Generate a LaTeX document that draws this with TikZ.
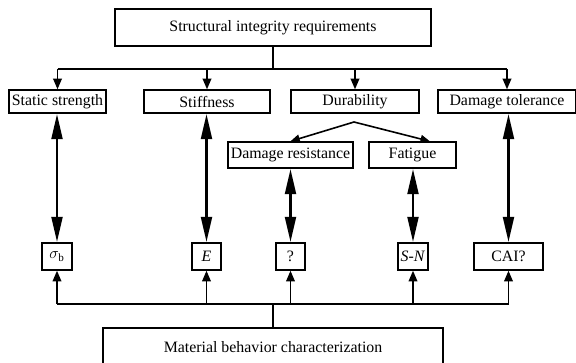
\documentclass[tikz,border=0pt]{standalone}
\usepackage{fontspec}
\setmainfont{Liberation Serif}
\usetikzlibrary{arrows.meta}

\tikzset{
  box/.style={draw, line width=1.1pt, inner sep=0pt, font=\fontsize{11.9}{14}\selectfont},
  bus/.style={line width=1.4pt},
  trunk/.style={line width=0.8pt},
  feed/.style={line width=1.2pt, -{Triangle[length=8pt, width=6.5pt]}},
  fan/.style={line width=1.2pt, -{Triangle[length=7pt, width=6pt]}},
  link/.style={line width=2.2pt, {Triangle[length=19pt, width=8pt]}-{Triangle[length=19pt, width=8pt]}},
}

\begin{document}
\begin{tikzpicture}[x=0.75pt, y=-0.75pt]
% canvas in pixel units, y pointing down
\useasboundingbox (0,0) rectangle (576,362);

% requirements
\node[box, minimum width=237pt, minimum height=27.75pt] (req) at (273,27.5) {Structural integrity requirements};
\node[box, minimum width=72.75pt, minimum height=17.25pt] (static) at (57.5,101.5) {Static strength};
\node[box, minimum width=94.5pt, minimum height=17.25pt] (stiff) at (207,101.5) {Stiffness};
\node[box, minimum width=96pt, minimum height=17.25pt] (dura) at (355,101.5) {Durability};
\node[box, minimum width=103.5pt, minimum height=17.25pt] (dtol) at (507,101.5) {Damage tolerance};
\node[box, minimum width=93.75pt, minimum height=19.5pt] (dres) at (290.5,155) {Damage resistance};
\node[box, minimum width=65.25pt, minimum height=19.5pt] (fati) at (412.5,155) {Fatigue};

% material properties
\node[box, minimum width=22.5pt, minimum height=20.25pt] (sig) at (57,256.5) {$\sigma_{\mathrm{b}}$};
\node[box, minimum width=21.75pt, minimum height=20.25pt] (emod) at (206.5,256.5) {\textit{E}};
\node[box, minimum width=21.75pt, minimum height=20.25pt] (qres) at (290.5,256.5) {?};
\node[box, minimum width=22.5pt, minimum height=20.25pt] (sn) at (413,256.5) {\textit{S}-\textit{N}};
\node[box, minimum width=51.75pt, minimum height=20.25pt] (cai) at (508.5,256.5) {CAI?};
\node[box, minimum width=255pt, minimum height=28.5pt] (mat) at (273,347) {Material behavior characterization};

\coordinate (bustop) at (273,69);
\coordinate (busbot) at (273,304);
\coordinate (fork) at (354,122);

% top distribution
\draw[trunk] (req.south) -- (bustop);
\draw[bus] (static.north |- bustop) -- (dtol.north |- bustop);
\foreach \n in {static,stiff,dura,dtol}
  \draw[feed] (\n.north |- bustop) -- (\n.north);

% durability split
\draw[fan] (fork) -- (dres.north);
\draw[fan] (fork) -- ([xshift=13pt]fati.north);

% requirement <-> property
\draw[link] (static.south -| sig.north) -- (sig.north);
\draw[link] (stiff.south -| emod.north) -- (emod.north);
\draw[link] (dres.south -| qres.north) -- (qres.north);
\draw[link] (fati.south -| sn.north) -- (sn.north);
\draw[link] (dtol.south -| cai.north) -- (cai.north);

% bottom collection
\draw[trunk] (mat.north) -- (busbot);
\draw[bus] (sig.south |- busbot) -- (cai.south |- busbot);
\foreach \n in {sig,emod,qres,sn,cai}
  \draw[feed] (\n.south |- busbot) -- (\n.south);
\end{tikzpicture}
\end{document}
